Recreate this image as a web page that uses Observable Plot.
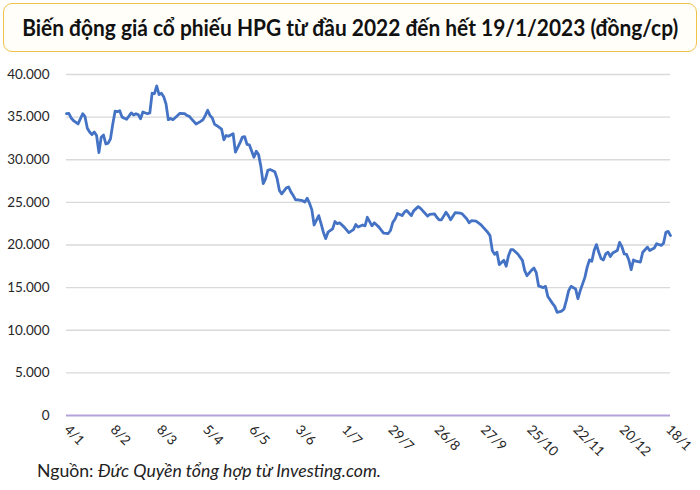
<!DOCTYPE html>
<html>
<head>
<meta charset="utf-8">
<script src="https://cdn.jsdelivr.net/npm/d3@7"></script>
<script src="https://cdn.jsdelivr.net/npm/@observablehq/plot@0.6"></script>
<style>
  html, body { margin: 0; padding: 0; background: #fff; }
  body { width: 700px; height: 490px; position: relative; overflow: hidden; font-family: Lato, "Noto Sans", sans-serif; }
  #title { position: absolute; left: 3px; top: 3px; width: 694px; height: 49px; box-sizing: border-box;
    border: 1.5px solid #f0c24b; border-radius: 9px; background: #fffef8;
    display: flex; align-items: center; justify-content: center; overflow: hidden; }
  #title span { font-family: Lato, sans-serif; font-weight: 700; font-size: 22px; color: #111; white-space: nowrap; display: inline-block; transform-origin: center center; }
  #chart { position: absolute; left: 0; top: 55px; }
  #caption { position: absolute; left: 37px; top: 460px; font-family: Lato, sans-serif; font-size: 17px; color: #222; white-space: nowrap; display: inline-block; transform-origin: left center; }
</style>
</head>
<body>
<div id="title"><span id="titleText">Biến động giá cổ phiếu HPG từ đầu 2022 đến hết 19/1/2023 (đồng/cp)</span></div>
<div id="chart"></div>
<div id="caption">Nguồn: <i>Đức Quyền tổng hợp từ Investing.com.</i></div>
<script>
// trading-day index (0 = 4/1/2022, 261 = 19/1/2023)
const dayIndex = [0,1,2,3,5,7,8,9,10,11,12,13,14,15,16,17,18,19,20,21,22,23,24,26,28,29,30,31,32,33,35,36,37,38,39,40,41,42,43,44,45,46,48,49,51,52,53,54,56,58,59,60,61,62,63,64,65,67,68,69,70,72,73,75,76,77,78,79,81,82,83,84,85,86,87,88,90,91,92,93,95,96,97,98,99,100,102,103,104,105,106,107,109,110,111,112,113,115,116,117,118,120,122,124,125,126,128,129,130,132,133,135,137,139,140,141,142,143,145,146,147,149,150,152,153,156,157,159,160,161,162,164,165,166,168,170,171,173,174,175,177,179,180,182,183,184,185,186,187,189,190,191,192,193,195,197,198,199,201,202,203,204,206,207,208,210,211,212,214,215,216,217,218,220,221,222,224,225,226,227,228,229,230,231,232,233,234,235,236,238,239,240,241,242,243,244,245,246,248,249,250,251,252,254,255,257,258,259,260,261];
const priceValues = [35400,35450,34900,34600,34200,35400,35050,33700,33250,32950,33250,32850,30850,32650,32900,31850,31950,32450,34200,35700,35650,35750,35000,34750,35500,35250,35400,35300,34800,35600,35400,35500,37800,37750,38650,37650,37800,37400,36550,34700,34850,34700,35200,35450,35400,35200,35100,34800,34200,34500,34700,35200,35800,35200,34900,34150,34000,33600,32350,32850,32750,33050,30900,32000,32650,32700,31800,31750,30300,31000,30600,29200,27200,27750,28750,28850,28600,27800,26400,26000,26700,26800,26200,25800,25300,25300,25200,25050,25500,24900,24150,22350,23450,22500,21500,20750,21500,21900,22750,22500,22600,22100,21450,21800,22400,22100,22350,22250,23250,22250,22600,22100,21400,21350,21700,22650,23050,23700,23450,23850,24050,23450,24000,24500,24300,23400,23600,23650,23250,22950,22950,23850,23450,22950,23800,23750,23650,23050,22600,22850,22800,22400,22100,21500,21100,19350,18900,19150,17700,18200,17500,18750,19450,19450,18950,18200,17000,16400,17050,17300,16750,15200,15000,15150,13950,13150,12800,12100,12250,12500,13500,14650,15150,14850,13700,14650,16200,17400,18250,18100,19350,20050,19150,18400,18250,18950,19150,18650,19050,19350,20300,19800,18950,18900,18250,17100,18250,18100,18000,19150,19450,19750,19350,19650,20150,19950,20200,21500,21600,21100];
const tickIndex = [0,20,40,60,80,100,120,140,160,180,200,220,240,260];
const tickLabels = ["4/1","8/2","8/3","5/4","6/5","3/6","1/7","29/7","26/8","27/9","25/10","22/11","20/12","18/1"];
const yTickValues = [0,5000,10000,15000,20000,25000,30000,35000,40000];

const data = dayIndex.map((d, k) => ({day: d, price: priceValues[k]}));
const fmtY = d => d === 0 ? "0" : d3.format(",")(d).replace(/,/g, ".");

const chart = Plot.plot({
  width: 700,
  height: 415,
  marginLeft: 66,
  marginRight: 30,
  marginTop: 19,
  marginBottom: 55,
  style: {fontFamily: "Lato, sans-serif", fontSize: "13.5px", color: "#262626", background: "transparent"},
  x: {domain: [0, 261], ticks: tickIndex, tickFormat: d => tickLabels[tickIndex.indexOf(d)], tickRotate: 45, tickSize: 0, tickPadding: 12, label: null},
  y: {domain: [0, 40000], ticks: yTickValues, tickFormat: fmtY, tickSize: 0, tickPadding: 17, label: null},
  marks: [
    Plot.ruleY(yTickValues.filter(d => d > 0), {stroke: "#d9d9d9", strokeWidth: 1.3}),
    Plot.ruleY([0], {stroke: "#b4a2d8", strokeWidth: 2}),
    Plot.line(data, {x: "day", y: "price", stroke: "#4472c4", strokeWidth: 2.8, strokeLinejoin: "round"})
  ]
});
document.getElementById("chart").appendChild(chart);

// fit title width to reference span
const t = document.getElementById("titleText");
const w = t.getBoundingClientRect().width;
t.style.transform = `scaleX(${656 / w})`;

// fit caption width to reference span
const c = document.getElementById("caption");
const cw = c.getBoundingClientRect().width;
c.style.transform = `scaleX(${344 / cw})`;
</script>
</body>
</html>
